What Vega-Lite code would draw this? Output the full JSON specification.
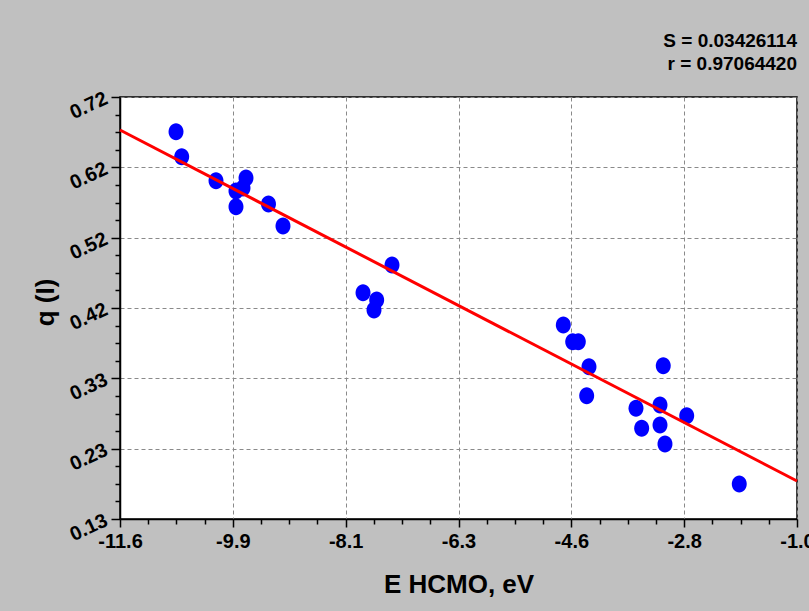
{
  "$schema": "https://vega.github.io/schema/vega-lite/v6.json",
  "width": 677,
  "height": 422,
  "autosize": {"type": "none"},
  "padding": {"left": 120, "top": 97, "right": 12, "bottom": 92},
  "background": "#C0C0C0",
  "title": {
    "text": "S = 0.03426114",
    "subtitle": "r = 0.97064420",
    "anchor": "end",
    "frame": "group",
    "font": "Liberation Sans",
    "subtitleFont": "Liberation Sans",
    "fontSize": 19,
    "subtitleFontSize": 19,
    "fontWeight": "bold",
    "subtitleFontWeight": "bold",
    "color": "#000000",
    "subtitleColor": "#000000",
    "offset": 14,
    "subtitlePadding": 4
  },
  "config": {
    "view": {"fill": "white", "stroke": "black", "strokeWidth": 1.5},
    "axis": {
      "labelFont": "Liberation Sans",
      "titleFont": "Liberation Sans",
      "labelFontWeight": "bold",
      "titleFontWeight": "bold",
      "labelColor": "#000000",
      "titleColor": "#000000",
      "domainColor": "#000000",
      "domainWidth": 1.5,
      "tickColor": "#000000",
      "tickWidth": 1.5,
      "gridColor": "#8a8a8a",
      "gridDash": [4, 3],
      "gridWidth": 1,
      "gridOpacity": 1
    }
  },
  "datasets": {
    "points": [
      {"e": -10.723, "q": 0.6715},
      {"e": -10.634, "q": 0.6365},
      {"e": -10.097, "q": 0.603},
      {"e": -9.784, "q": 0.5666},
      {"e": -9.784, "q": 0.5886},
      {"e": -9.674, "q": 0.5928},
      {"e": -9.627, "q": 0.6067},
      {"e": -9.275, "q": 0.5704},
      {"e": -9.048, "q": 0.5396},
      {"e": -7.341, "q": 0.4851},
      {"e": -7.795, "q": 0.4464},
      {"e": -7.581, "q": 0.4362},
      {"e": -7.623, "q": 0.4222},
      {"e": -4.659, "q": 0.4012},
      {"e": -4.512, "q": 0.3779},
      {"e": -4.424, "q": 0.3779},
      {"e": -4.257, "q": 0.3429},
      {"e": -4.293, "q": 0.3024},
      {"e": -3.094, "q": 0.3443},
      {"e": -3.521, "q": 0.2848},
      {"e": -3.145, "q": 0.2894},
      {"e": -2.727, "q": 0.2744},
      {"e": -3.432, "q": 0.2568},
      {"e": -3.145, "q": 0.2614},
      {"e": -3.067, "q": 0.2349},
      {"e": -1.904, "q": 0.1789}
    ],
    "fit": [
      {"e": -11.6, "q": 0.6739},
      {"e": -1.0, "q": 0.1831}
    ]
  },
  "layer": [
    {
      "data": {"name": "points"},
      "mark": {
        "type": "point",
        "filled": true,
        "color": "#0000FF",
        "opacity": 1,
        "size": 289,
        "shape": "M -0.88 0 A 0.88 1 0 1 0 0.88 0 A 0.88 1 0 1 0 -0.88 0 Z"
      },
      "encoding": {
        "x": {
          "field": "e",
          "type": "quantitative",
          "scale": {"domain": [-11.6, -1.0], "nice": false, "zero": false},
          "axis": {
            "orient": "bottom",
            "title": "E HCMO, eV",
            "titleFontSize": 26,
            "titlePadding": 20,
            "values": [-11.6, -9.833333, -8.066667, -6.3, -4.533333, -2.766667, -1.0],
            "labelExpr": "datum.value < -11 ? '-11.6' : datum.value < -9 ? '-9.9' : datum.value < -7 ? '-8.1' : datum.value < -5.5 ? '-6.3' : datum.value < -3.5 ? '-4.6' : datum.value < -2 ? '-2.8' : '-1.0'",
            "labelFontSize": 20,
            "labelPadding": 4,
            "tickSize": 8,
            "grid": true,
            "labelFlush": false,
            "labelOverlap": false
          }
        },
        "y": {
          "field": "q",
          "type": "quantitative",
          "scale": {"domain": [0.13, 0.72], "nice": false, "zero": false},
          "axis": {
            "orient": "left",
            "title": "q (I)",
            "titleFontSize": 26,
            "titleX": -62,
            "titleY": 205,
            "values": [0.13, 0.228333, 0.326667, 0.425, 0.523333, 0.621667, 0.72],
            "format": ".2f",
            "labelFontSize": 20,
            "labelAngle": -25,
            "labelAlign": "right",
            "labelBaseline": "middle",
            "labelPadding": 5,
            "tickSize": 9,
            "grid": true,
            "labelFlush": false,
            "labelOverlap": false
          }
        }
      }
    },
    {
      "data": {"name": "fit"},
      "mark": {"type": "line", "color": "#FF0000", "strokeWidth": 3},
      "encoding": {
        "x": {
          "field": "e",
          "type": "quantitative",
          "scale": {"domain": [-11.6, -1.0], "nice": false, "zero": false},
          "axis": {
            "orient": "bottom",
            "title": null,
            "labels": false,
            "grid": false,
            "domain": false,
            "tickSize": 5,
            "values": [-11.158333, -10.716667, -10.275, -9.391667, -8.95, -8.508333, -7.625, -7.183333, -6.741667, -5.858333, -5.416667, -4.975, -4.091667, -3.65, -3.208333, -2.325, -1.883333, -1.441667]
          }
        },
        "y": {
          "field": "q",
          "type": "quantitative",
          "scale": {"domain": [0.13, 0.72], "nice": false, "zero": false},
          "axis": {
            "orient": "left",
            "title": null,
            "labels": false,
            "grid": false,
            "domain": false,
            "tickSize": 5,
            "values": [0.154583, 0.179167, 0.20375, 0.252917, 0.2775, 0.302083, 0.35125, 0.375833, 0.400417, 0.449583, 0.474167, 0.49875, 0.547917, 0.5725, 0.597083, 0.64625, 0.670833, 0.695417]
          }
        }
      }
    }
  ],
  "resolve": {"axis": {"x": "independent", "y": "independent"}}
}
